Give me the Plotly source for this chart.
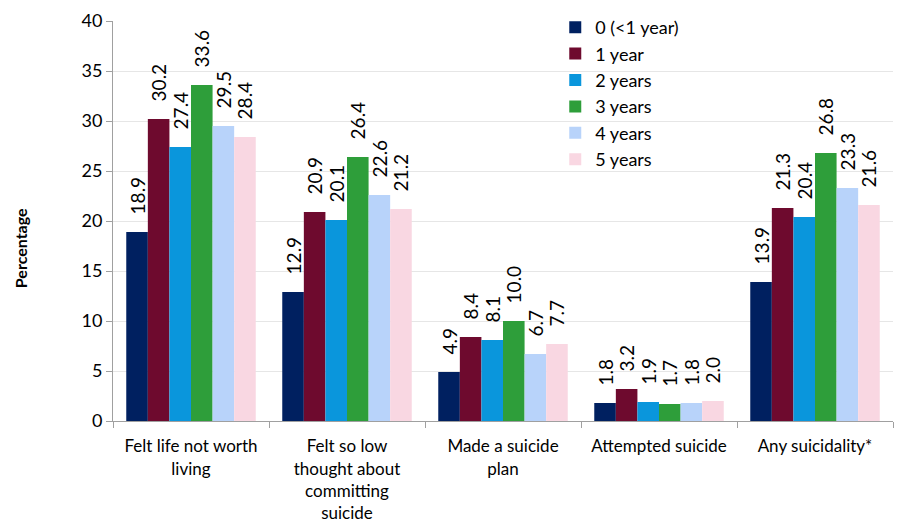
import plotly.graph_objects as go

categories = ["Felt life not worth<br>living",
              "Felt so low<br>thought about<br>committing<br>suicide",
              "Made a suicide<br>plan",
              "Attempted suicide",
              "Any suicidality*"]
series_names = ["0 (<1 year)", "1 year", "2 years", "3 years", "4 years", "5 years"]
values = {
    "0 (<1 year)": [18.9, 12.9, 4.9, 1.8, 13.9],
    "1 year": [30.2, 20.9, 8.4, 3.2, 21.3],
    "2 years": [27.4, 20.1, 8.1, 1.9, 20.4],
    "3 years": [33.6, 26.4, 10.0, 1.7, 26.8],
    "4 years": [29.5, 22.6, 6.7, 1.8, 23.3],
    "5 years": [28.4, 21.2, 7.7, 2.0, 21.6],
}
colors = ["#002060", "#6E0A2E", "#0A96DC", "#2E9E3A", "#B8D3FA", "#F9D7E2"]

font_family = "Lato, Open Sans, sans-serif"
pad = "\u00a0\u00a0\u00a0"

fig = go.Figure()
for name, col in zip(series_names, colors):
    vals = values[name]
    fig.add_trace(go.Bar(
        x=categories, y=vals, name=name,
        marker=dict(color=col, line=dict(width=0)),
        text=[f"{pad}{v:.1f}" for v in vals],
        textposition="outside", textangle=-90,
        constraintext="none",
        textfont=dict(size=19, color="black", family=font_family),
        cliponaxis=False,
    ))

# page body has an 8px margin, so offsets compensate for it
fig.update_layout(
    width=896, height=516,
    margin=dict(l=105, r=11, t=13, b=103, autoexpand=False),
    paper_bgcolor="white", plot_bgcolor="white",
    barmode="group", bargap=0.17, bargroupgap=0,
    font=dict(family=font_family, size=17, color="black"),
    legend=dict(x=0.567, y=1.03, xanchor="left", yanchor="top",
                bgcolor="rgba(0,0,0,0)", font=dict(size=18),
                itemwidth=30, tracegroupgap=0),
    showlegend=True,
    annotations=[dict(text="<b>Percentage</b>", xref="paper", yref="paper",
                      x=-0.119, y=0.4325, xanchor="center", yanchor="middle",
                      textangle=-90, showarrow=False, font=dict(size=16))],
)
fig.update_yaxes(range=[0, 40], dtick=5, showgrid=True, gridcolor="#E6E6E6",
                 showline=True, linecolor="#A0A0A0", ticks="outside",
                 tickcolor="#A0A0A0", ticklen=6, zeroline=False,
                 tickfont=dict(size=18))
fig.update_xaxes(showline=True, linecolor="#A0A0A0", ticks="outside",
                 tickson="boundaries", tickcolor="#A0A0A0", ticklen=6,
                 tickfont=dict(size=17), ticklabelstandoff=10)

fig.write_html("out.html")
